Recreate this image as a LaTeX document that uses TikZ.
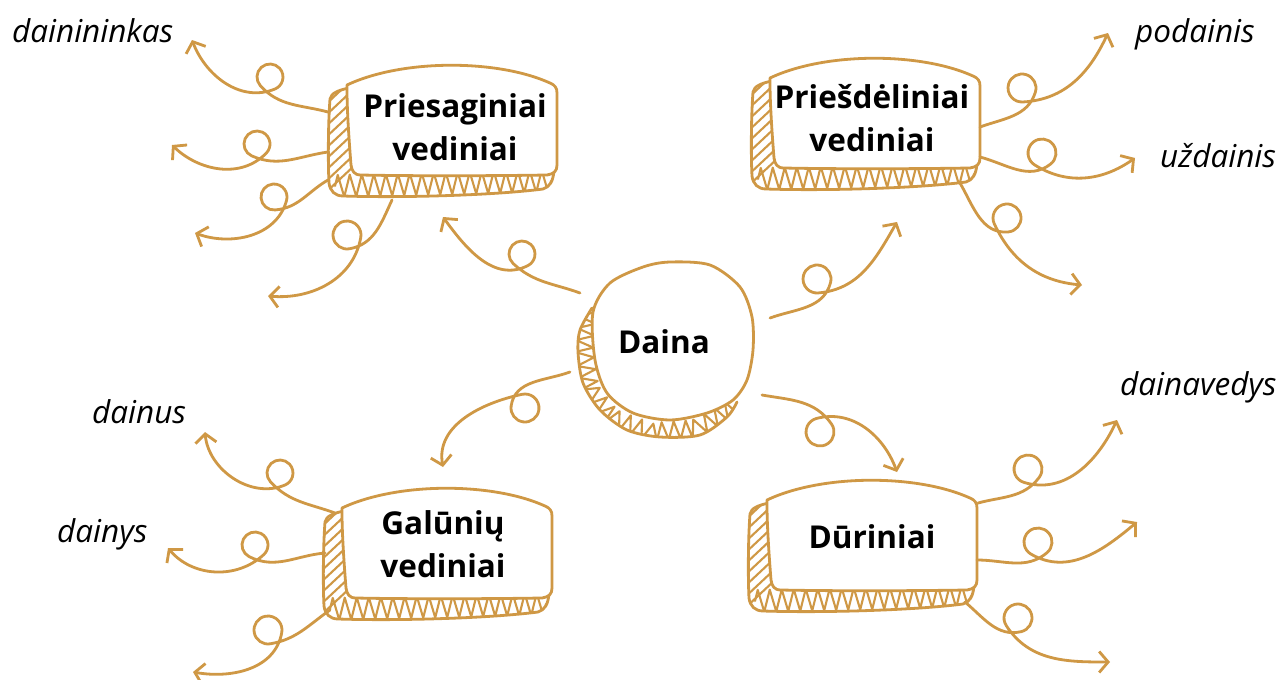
\documentclass[tikz,border=0pt]{standalone}
\usepackage{fontspec}
\setmainfont{Open Sans}
\usetikzlibrary{arrows.meta,decorations.pathmorphing,calc}
\definecolor{ink}{RGB}{207,152,69}
\tikzset{
 inkline/.style={draw=ink, line width=2.8pt, line cap=round, line join=round},
 conn/.style={inkline, -{Straight Barb[length=9pt,width=21pt]}},
 hatchline/.style={draw=ink, line width=2.1pt, line cap=round, line join=round},
 boxtext/.style={font=\bfseries\fontsize{31.5}{43.5}\selectfont, align=center, inner sep=0pt, text=black},
 word/.style={font=\itshape\fontsize{31.5}{36}\selectfont, inner sep=0pt, anchor=base west, text=black},
}
\newcommand\drawsketchbox{%
 \begin{scope}
  \clip (2,-3) .. controls (-8,-5) and (-16,-8) .. (-17,-14) .. controls (-19,-40) and (-19,-80) .. (-18,-98) .. controls (-17,-106) and (-12,-111) .. (-4,-111) .. controls (60,-113) and (150,-110) .. (196,-104) .. controls (203,-102) and (206,-96) .. (207,-86) -- cycle;
  \foreach \k in {0,...,8} \draw[hatchline] (-24,-22-11*\k) -- (8,8-11*\k);
  \draw[hatchline, decorate, decoration={zigzag, segment length=12pt, amplitude=11pt}] (-12,-101) -- (208,-96);
 \end{scope}
 \draw[inkline] (2,-3) .. controls (-8,-5) and (-16,-8) .. (-17,-14) .. controls (-19,-40) and (-19,-80) .. (-18,-98) .. controls (-17,-106) and (-12,-111) .. (-4,-111) .. controls (60,-113) and (150,-110) .. (196,-104) .. controls (203,-102) and (206,-96) .. (207,-86);
 \draw[inkline, fill=white] (0,0) .. controls (55,26) and (150,26) .. (203,2) .. controls (208,0) and (210,-3) .. (210,-8) -- (210,-80) .. controls (210,-86) and (207,-89) .. (200,-90) .. controls (140,-91) and (60,-91) .. (14,-90) .. controls (7,-90) and (5,-86) .. (4,-80) .. controls (2,-55) and (0,-25) .. (0,-5) -- cycle;
}
\begin{document}
\begin{tikzpicture}[x=1pt,y=1pt]
\useasboundingbox (0,0) rectangle (1283,-680);
\fill[white] (0,0) rectangle (1283,-680);

% boxes
\begin{scope}[shift={(347,-85)}]\drawsketchbox\end{scope}
\begin{scope}[shift={(770,-78)}]\drawsketchbox\end{scope}
\begin{scope}[shift={(342,-508)}]\drawsketchbox\end{scope}
\begin{scope}[shift={(767,-500)}]\drawsketchbox\end{scope}

% central blob
\begin{scope}
 \clip plot[smooth] coordinates {(592,-308) (580,-330) (578,-352) (583,-383) (600,-410) (627,-430) (660,-437) (700,-435) (727,-417) (737,-402)} -- (690,-330) -- cycle;
 \draw[hatchline, decorate, decoration={zigzag, segment length=12pt, amplitude=9pt}] (588,-308) -- (584,-352) -- (590,-390) -- (612,-418) -- (650,-432) -- (695,-429) -- (732,-408);
\end{scope}
\draw[inkline] plot[smooth] coordinates {(592,-308) (580,-330) (578,-352) (583,-383) (600,-410) (627,-430) (660,-437) (700,-435) (727,-417) (737,-402)};
\draw[inkline, fill=white] plot[smooth cycle] coordinates {(670,-262) (710,-265) (740,-287) (752,-317) (753,-350) (747,-380) (733,-400) (707,-413) (670,-420) (633,-413) (607,-393) (595,-360) (593,-312) (610,-283) (643,-267)};

% texts
\node[boxtext] (t1) at (455,-127) {Priesaginiai\\vediniai};
\node[boxtext] (t2) at (872,-118) {Priešdėliniai\\vediniai};
\node[boxtext] (t3) at (443,-544) {Galūnių\\vediniai};
\node[boxtext, anchor=base] (t4) at (872,-548) {Dūriniai};
\node[boxtext, anchor=base] (t0) at (664,-353) {Daina};

\node[word] (w1) at (12,-42) {dainininkas};
\node[word] (w2) at (1135,-42) {podainis};
\node[word] (w3) at (1160,-167) {uždainis};
\node[word] (w4) at (1120,-395) {dainavedys};
\node[word] (w5) at (92,-423) {dainus};
\node[word] (w6) at (57,-542) {dainys};

% connector coordinates: start, loop centre, end
\coordinate (sA1) at (328,-112); \coordinate (cA1) at (270,-77);  \coordinate (eA1) at (192,-40);
\coordinate (sA2) at (328,-152); \coordinate (cA2) at (257,-144); \coordinate (eA2) at (172,-145);
\coordinate (sA3) at (328,-180); \coordinate (cA3) at (274,-197); \coordinate (eA3) at (195,-233);
\coordinate (sA4) at (392,-200); \coordinate (cA4) at (347,-235); \coordinate (eA4) at (268,-296);
\coordinate (sA5) at (580,-293); \coordinate (cA5) at (522,-254); \coordinate (eA5) at (443,-217);
\coordinate (sB1) at (980,-127); \coordinate (cB1) at (1022,-88); \coordinate (eB1) at (1108,-33);
\coordinate (sB2) at (980,-157); \coordinate (cB2) at (1042,-153); \coordinate (eB2) at (1135,-158);
\coordinate (sB3) at (960,-183); \coordinate (cB3) at (1007,-218); \coordinate (eB3) at (1082,-285);
\coordinate (sB4) at (770,-318); \coordinate (cB4) at (817,-279); \coordinate (eB4) at (897,-222);
\coordinate (sC1) at (335,-513); \coordinate (cC1) at (280,-473); \coordinate (eC1) at (205,-432);
\coordinate (sC2) at (325,-553); \coordinate (cC2) at (255,-545); \coordinate (eC2) at (168,-548);
\coordinate (sC3) at (330,-610); \coordinate (cC3) at (268,-630); \coordinate (eC3) at (193,-672);
\coordinate (sC4) at (570,-372); \coordinate (cC4) at (525,-408); \coordinate (eC4) at (443,-467);
\coordinate (sD1) at (762,-395); \coordinate (cD1) at (820,-432); \coordinate (eD1) at (897,-472);
\coordinate (sD2) at (978,-503); \coordinate (cD2) at (1028,-469); \coordinate (eD2) at (1117,-420);
\coordinate (sD3) at (977,-560); \coordinate (cD3) at (1038,-542); \coordinate (eD3) at (1137,-522);
\coordinate (sD4) at (965,-602); \coordinate (cD4) at (1018,-618); \coordinate (eD4) at (1110,-662);

% loop entry points
\coordinate (xA1) at ($(cA1)+(222:13)$);
\coordinate (xA2) at ($(cA2)+(246:13)$);
\coordinate (xA3) at ($(cA3)+(275:13)$);
\coordinate (xA4) at ($(cA4)+(280:14)$);
\coordinate (xA5) at ($(cA5)+(227:13)$);
\coordinate (xB1) at ($(cB1)+(343:14)$);
\coordinate (xB2) at ($(cB2)+(308:14)$);
\coordinate (xB3) at ($(cB3)+(275:14)$);
\coordinate (xB4) at ($(cB4)+(345:14)$);
\coordinate (xC1) at ($(cC1)+(223:13)$);
\coordinate (xC2) at ($(cC2)+(243:13)$);
\coordinate (xC3) at ($(cC3)+(280:14)$);
\coordinate (xC4) at ($(cC4)+(172:14)$);
\coordinate (xD1) at ($(cD1)+(35:14)$);
\coordinate (xD2) at ($(cD2)+(323:14)$);
\coordinate (xD3) at ($(cD3)+(310:14)$);
\coordinate (xD4) at ($(cD4)+(283:14)$);

% connectors
\draw[conn] (sA1) to[out=165,in=312] (xA1) arc[start angle=222,delta angle=-290,radius=13] to[out=202,in=291] (eA1);
\draw[conn] (sA2) to[out=188,in=336] (xA2) arc[start angle=246,delta angle=-290,radius=13] to[out=226,in=316] (eA2);
\draw[conn] (sA3) to[out=210,in=5] (xA3) arc[start angle=275,delta angle=-290,radius=13] to[out=255,in=340] (eA3);
\draw[conn] (sA4) to[out=245,in=10] (xA4) arc[start angle=280,delta angle=-290,radius=14] to[out=260,in=355] (eA4);
\draw[conn] (sA5) to[out=160,in=317] (xA5) arc[start angle=227,delta angle=-290,radius=13] to[out=207,in=306] (eA5);
\draw[conn] (sB1) to[out=20,in=253] (xB1) arc[start angle=343,delta angle=290,radius=14] to[out=3,in=245] (eB1);
\draw[conn] (sB2) to[out=-15,in=218] (xB2) arc[start angle=308,delta angle=290,radius=14] to[out=-32,in=215] (eB2);
\draw[conn] (sB3) to[out=-60,in=185] (xB3) arc[start angle=275,delta angle=290,radius=14] to[out=295,in=175] (eB3);
\draw[conn] (sB4) to[out=20,in=255] (xB4) arc[start angle=345,delta angle=290,radius=14] to[out=5,in=240] (eB4);
\draw[conn] (sC1) to[out=160,in=313] (xC1) arc[start angle=223,delta angle=-290,radius=13] to[out=203,in=275] (eC1);
\draw[conn] (sC2) to[out=185,in=333] (xC2) arc[start angle=243,delta angle=-290,radius=13] to[out=223,in=310] (eC2);
\draw[conn] (sC3) to[out=215,in=10] (xC3) arc[start angle=280,delta angle=-290,radius=14] to[out=260,in=350] (eC3);
\draw[conn] (sC4) to[out=200,in=82] (xC4) arc[start angle=172,delta angle=290,radius=14] to[out=192,in=100] (eC4);
\draw[conn] (sD1) to[out=-10,in=125] (xD1) arc[start angle=35,delta angle=-290,radius=14] to[out=15,in=110] (eD1);
\draw[conn] (sD2) to[out=15,in=233] (xD2) arc[start angle=323,delta angle=290,radius=14] to[out=-17,in=245] (eD2);
\draw[conn] (sD3) to[out=0,in=220] (xD3) arc[start angle=310,delta angle=290,radius=14] to[out=-30,in=220] (eD3);
\draw[conn] (sD4) to[out=-40,in=193] (xD4) arc[start angle=283,delta angle=290,radius=14] to[out=303,in=180] (eD4);
\end{tikzpicture}
\end{document}
